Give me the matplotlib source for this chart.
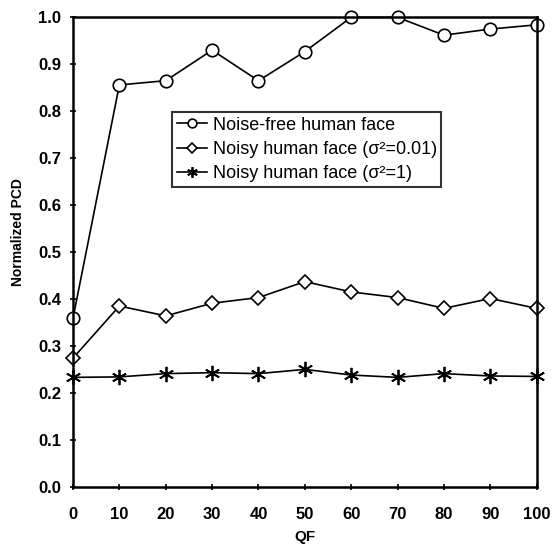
import matplotlib

matplotlib.use("Agg")
import matplotlib.pyplot as plt

plt.rcParams["font.family"] = ["Liberation Sans", "DejaVu Sans"]

QF = [0, 10, 20, 30, 40, 50, 60, 70, 80, 90, 100]
NOISE_FREE = [0.359, 0.856, 0.865, 0.930, 0.865, 0.927, 1.0, 1.0, 0.962, 0.975, 0.984]
NOISY_001 = [0.274, 0.385, 0.364, 0.391, 0.403, 0.437, 0.415, 0.403, 0.380, 0.401, 0.380]
NOISY_1 = [0.233, 0.234, 0.241, 0.243, 0.241, 0.250, 0.238, 0.233, 0.241, 0.236, 0.235]

LABELS = [
    "Noise-free human face",
    "Noisy human face (\u03c3\u00b2=0.01)",
    "Noisy human face (\u03c3\u00b2=1)",
]

fig = plt.figure(figsize=(5.53, 5.50), dpi=100)
ax = fig.add_axes([0.132, 0.115, 0.8385, 0.8535])

ax.plot(QF, NOISE_FREE, color="black", lw=1.2, marker="o", ms=9,
        mfc="white", mec="black", mew=1.2, label=LABELS[0], clip_on=False)
ax.plot(QF, NOISY_001, color="black", lw=1.2, marker="D", ms=7,
        mfc="white", mec="black", mew=1.2, label=LABELS[1], clip_on=False)
ax.plot(QF, NOISY_1, color="black", lw=1.2, marker=(6, 2, 0), ms=11,
        mec="black", mew=1.3, label=LABELS[2], clip_on=False)

ax.set_xlim(0, 100)
ax.set_ylim(0.0, 1.0)
ax.set_xticks(QF)
ax.set_yticks([i / 10 for i in range(11)])
ax.set_yticklabels([f"{i / 10:.1f}" for i in range(11)])
ax.tick_params(direction="inout", length=5, width=1.2, labelsize=12)
ax.tick_params(axis="x", pad=12)
ax.tick_params(axis="y", pad=6)
for lab in ax.get_xticklabels() + ax.get_yticklabels():
    lab.set_fontweight("bold")
for sp in ax.spines.values():
    sp.set_linewidth(1.8)

ax.set_xlabel("QF", fontsize=11, fontweight="bold", labelpad=6)
ax.set_ylabel("Normalized PCD", fontsize=10, fontweight="bold")
ax.yaxis.set_label_coords(-0.103, 0.543)

leg = ax.legend(loc="upper left", bbox_to_anchor=(0.214, 0.798), fontsize=13,
                frameon=True, fancybox=False, edgecolor="black",
                markerscale=0.7, handlelength=1.7, handletextpad=0.3,
                borderpad=0.25, labelspacing=0.4, borderaxespad=0)
leg.get_frame().set_linewidth(1.5)

fig.savefig("out.png", dpi=100)
